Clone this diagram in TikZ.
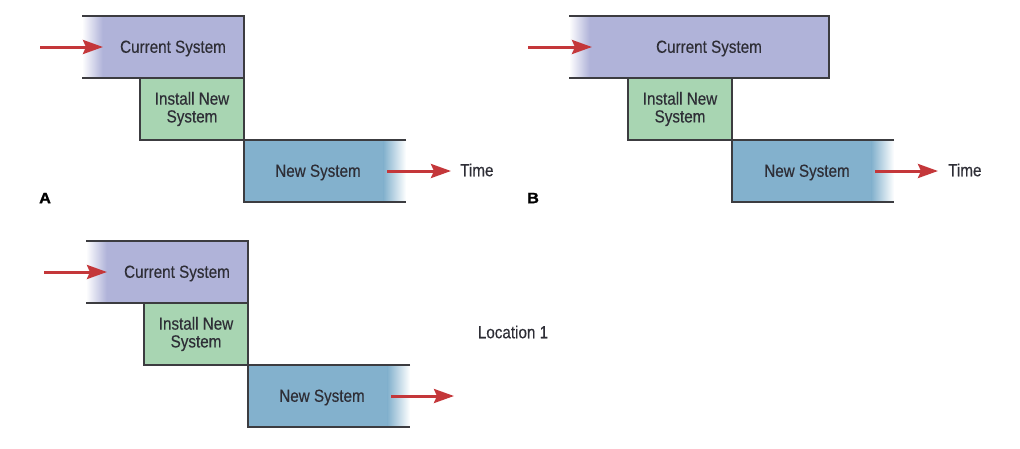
\documentclass[tikz,border=0pt]{standalone}
\usepackage{fontspec}
\setmainfont{Liberation Sans}[FakeStretch=0.87, FakeBold=0.35]
\newfontfamily\heavyfont{Liberation Sans}[FakeStretch=1.08, BoldFeatures={FakeBold=1.3}]
\usetikzlibrary{arrows.meta,calc}
\definecolor{curfill}{HTML}{B0B3D9}
\definecolor{instfill}{HTML}{A8D5B2}
\definecolor{newfill}{HTML}{83B1CD}
\definecolor{edgecol}{HTML}{3C3C40}
\definecolor{txtcol}{HTML}{2E2E36}
\definecolor{arrowred}{HTML}{C4373A}
\tikzset{
  boxbase/.style={rectangle, inner sep=0pt, outer sep=0pt, draw=none, anchor=north west,
    minimum height=62pt, font=\fontsize{17.5}{17.5}\selectfont, text=txtcol, align=center},
  curbox/.style={boxbase, minimum width=#1,
    path picture={
      \fill[curfill] ([xshift=20pt]path picture bounding box.south west) rectangle (path picture bounding box.north east);
      \shade[left color=white, right color=curfill] (path picture bounding box.south west) rectangle ([xshift=20.5pt]path picture bounding box.north west);
    }},
  newbox/.style={boxbase, minimum width=162pt,
    path picture={
      \fill[newfill] (path picture bounding box.south west) rectangle ([xshift=-22pt]path picture bounding box.north east);
      \shade[left color=newfill, right color=white] ([xshift=-22.5pt]path picture bounding box.south east) rectangle (path picture bounding box.north east);
    }},
  instbox/.style={boxbase, minimum width=104pt, fill=instfill, draw=edgecol, line width=1.1pt},
  edge/.style={draw=edgecol, line width=1.1pt},
  redarrow/.style={draw=arrowred, line width=3pt, -{Stealth[length=20pt,width=14pt,inset=3pt]}},
  boxtext/.style={font=\fontsize{17.5}{17.5}\selectfont, text=txtcol, inner sep=0pt},
  panel/.style={font=\heavyfont\fontsize{15}{15}\selectfont\bfseries, text=black, inner sep=0pt, anchor=west}
}
\begin{document}
\begin{tikzpicture}[x=1pt,y=-1pt]
\useasboundingbox (0,0) rectangle (1020,448);

% ---------- Panel A ----------
\node[instbox] (iA) at (140,78) {Install New\\[0.3pt]System};
\node[curbox=162pt, label={[boxtext, xshift=10pt, yshift=-1.5pt]center:Current System}] (cA) at (82,16) {};
\draw[edge] (cA.north west) -- (cA.north east) -- (cA.south east) -- (cA.south west);
\node[newbox, label={[boxtext, xshift=-7pt, yshift=-1.5pt]center:New System}] (nA) at (244,140) {};
\draw[edge] (nA.north east) -- (nA.north west) -- (nA.south west) -- (nA.south east);
\coordinate (inA) at (40,47);
\draw[redarrow] (inA) -- ([xshift=21pt]cA.west);
\node[boxtext, anchor=west] (tA) at (460,170) {Time};
\coordinate (sA) at ([xshift=-19pt]nA.east);
\draw[redarrow] (sA) -- ([xshift=-9pt]sA -| tA.west);
\node[panel] (pA) at (39,198) {A};

% ---------- Panel B ----------
\node[instbox] (iB) at (628,78) {Install New\\[0.3pt]System};
\node[curbox=260pt, label={[boxtext, xshift=10pt, yshift=-1.5pt]center:Current System}] (cB) at (569,16) {};
\draw[edge] (cB.north west) -- (cB.north east) -- (cB.south east) -- (cB.south west);
\node[newbox, label={[boxtext, xshift=-6pt, yshift=-1.5pt]center:New System}] (nB) at (732,140) {};
\draw[edge] (nB.north east) -- (nB.north west) -- (nB.south west) -- (nB.south east);
\coordinate (inB) at (528,47);
\draw[redarrow] (inB) -- ([xshift=23pt]cB.west);
\node[boxtext, anchor=west] (tB) at (948,170) {Time};
\coordinate (sB) at ([xshift=-19pt]nB.east);
\draw[redarrow] (sB) -- ([xshift=-10pt]sB -| tB.west);
\node[panel] (pB) at (527,198) {B};

% ---------- Panel C ----------
\node[instbox] (iC) at (144,303) {Install New\\[0.3pt]System};
\node[curbox=162pt, label={[boxtext, xshift=10pt, yshift=-1.5pt]center:Current System}] (cC) at (86,241) {};
\draw[edge] (cC.north west) -- (cC.north east) -- (cC.south east) -- (cC.south west);
\node[newbox, label={[boxtext, xshift=-7pt, yshift=-1.5pt]center:New System}] (nC) at (248,365) {};
\draw[edge] (nC.north east) -- (nC.north west) -- (nC.south west) -- (nC.south east);
\coordinate (inC) at (44,272);
\draw[redarrow] (inC) -- ([xshift=21pt]cC.west);
\coordinate (outC) at (454,396);
\draw[redarrow] ([xshift=-19pt]nC.east) -- (outC);
\node[boxtext] (loc) at (513,332) {Location 1};
\end{tikzpicture}
\end{document}
